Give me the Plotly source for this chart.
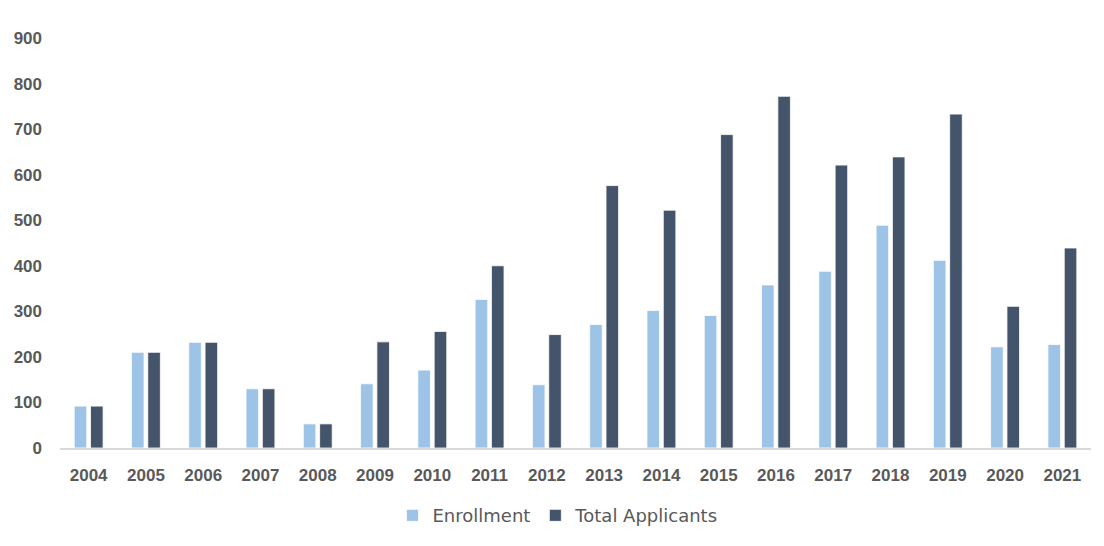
import plotly.graph_objects as go

years = [str(y) for y in range(2004, 2022)]
enrollment = [92, 210, 232, 130, 53, 141, 171, 326, 139, 271, 302, 291, 358, 388, 489, 412, 222, 227]
applicants = [92, 210, 232, 130, 53, 233, 256, 400, 249, 576, 522, 688, 772, 621, 639, 733, 311, 439]
y_ticks = [0, 100, 200, 300, 400, 500, 600, 700, 800, 900]

tick_font = dict(size=17, family="Liberation Sans, Arial, sans-serif", weight="bold", color="#595959")

fig = go.Figure()
fig.add_trace(go.Bar(x=years, y=enrollment, name="Enrollment",
                     marker=dict(color="#9DC3E6", line=dict(color="white", width=0.8))))
fig.add_trace(go.Bar(x=years, y=applicants, name="Total Applicants",
                     marker=dict(color="#44546A", line=dict(color="white", width=0.8))))

fig.update_layout(
    width=1104, height=546,
    margin=dict(l=60, r=13, t=38, b=96),
    plot_bgcolor="white", paper_bgcolor="white",
    barmode="group", bargap=0.43, bargroupgap=0.23,
    font=dict(family="DejaVu Sans, sans-serif", color="#595959"),
    legend=dict(orientation="h", x=0.483, xanchor="center", y=-0.165, yanchor="middle",
                font=dict(size=18, family="DejaVu Sans, sans-serif", color="#595959"),
                itemwidth=30, traceorder="normal"),
    showlegend=True,
)
fig.update_xaxes(showgrid=False, showline=True, linecolor="#D9D9D9", linewidth=2,
                 tickfont=tick_font, ticks="", ticklabelstandoff=11)
fig.update_yaxes(range=[0, 900], tickvals=y_ticks, showgrid=False, showline=False, zeroline=False,
                 tickfont=tick_font, ticks="", ticklabelstandoff=17)

fig.write_html("out.html")
